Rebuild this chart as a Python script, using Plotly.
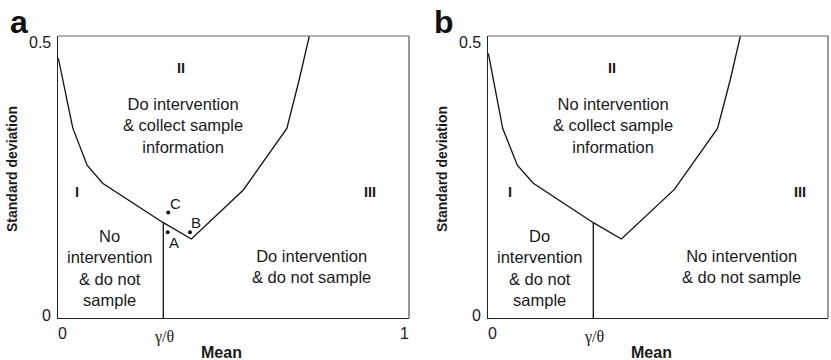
import plotly.graph_objects as go

# ---------------- data ----------------
gamma_theta = 0.3
mean_a = [0.001, 0.042, 0.083, 0.127, 0.300, 0.380, 0.528, 0.652, 0.687, 0.716]
sd_a = [0.4605, 0.337, 0.271, 0.239, 0.169, 0.140, 0.227, 0.336, 0.422, 0.500]
mean_b = [0.001, 0.042, 0.0835, 0.129, 0.300, 0.380, 0.531, 0.654, 0.690, 0.719]
sd_b = [0.469, 0.336, 0.271, 0.239, 0.169, 0.140, 0.228, 0.336, 0.422, 0.500]
boundary_top = 0.169  # where the vertical line meets the curve

point_labels = ["A", "B", "C"]
point_mean = [0.3125, 0.376, 0.314]
point_sd = [0.152, 0.152, 0.187]

x_ticks_a = [0, gamma_theta, 1]
x_ticktext_a = ["0", "γ/θ", "1"]
x_ticks_b = [0, gamma_theta]
x_ticktext_b = ["0", "γ/θ"]
y_ticks = [0, 0.5]
y_ticktext = ["0", "0.5"]

regions_a = ["I", "II", "III"]
regions_b = ["I", "II", "III"]
text_a = ["No<br>intervention<br>& do not<br>sample",
          "Do intervention<br>& collect sample<br>information",
          "Do intervention<br>& do not sample"]
text_b = ["Do<br>intervention<br>& do not<br>sample",
          "No intervention<br>& collect sample<br>information",
          "No intervention<br>& do not sample"]

# ---------------- figure ----------------
W, H = 831, 360
FONT = "Liberation Sans, Arial, Helvetica, sans-serif"
SERIF = "Liberation Serif, Times New Roman, serif"
TXT = "#1a1a1a"

fig = go.Figure()

def px_x(p):
    return p / W

def px_y(p):
    return 1 - p / H

for xa, ya, mx, sy in [("x", "y", mean_a, sd_a), ("x2", "y2", mean_b, sd_b)]:
    fig.add_trace(go.Scatter(x=mx, y=sy, mode="lines", xaxis=xa, yaxis=ya,
                             line=dict(color="#111", width=1.3), showlegend=False,
                             hoverinfo="skip"))
    fig.add_trace(go.Scatter(x=[gamma_theta, gamma_theta], y=[0, boundary_top],
                             mode="lines", xaxis=xa, yaxis=ya,
                             line=dict(color="#111", width=1.3), showlegend=False,
                             hoverinfo="skip"))

fig.add_trace(go.Scatter(x=point_mean, y=point_sd, mode="markers", xaxis="x", yaxis="y",
                         marker=dict(color="#111", size=4), showlegend=False,
                         hoverinfo="skip"))

ydom = [px_y(318), px_y(36)]
axis_common = dict(showgrid=False, zeroline=False, showticklabels=False, ticks="",
                   showline=True, linecolor="#222", linewidth=1.3, fixedrange=True)
fig.update_layout(
    width=W, height=H,
    margin=dict(l=0, r=0, t=0, b=0),
    paper_bgcolor="white", plot_bgcolor="white",
    font=dict(family=FONT, color=TXT),
    xaxis=dict(domain=[px_x(58), px_x(409)], range=[0, 1], anchor="y", **axis_common),
    yaxis=dict(domain=ydom, range=[0, 0.5], anchor="x", **axis_common),
    xaxis2=dict(domain=[px_x(488), px_x(828)], range=[0, 340 / 351], anchor="y2", **axis_common),
    yaxis2=dict(domain=ydom, range=[0, 0.5], anchor="x2", **axis_common),
)

# gray top / right frame lines
shapes = []
for xr, yr in [("x", "y"), ("x2", "y2")]:
    shapes.append(dict(type="line", xref=f"{xr} domain", yref=f"{yr} domain",
                       x0=0, x1=1, y0=1, y1=1, line=dict(color="#666", width=1.2)))
    shapes.append(dict(type="line", xref=f"{xr} domain", yref=f"{yr} domain",
                       x0=1, x1=1, y0=0, y1=1, line=dict(color="#555", width=1.2)))
fig.update_layout(shapes=shapes)

ann = []
C = dict(xanchor="center", yanchor="middle", showarrow=False)
# panel letters
ann.append(dict(text="<b>a</b>", xref="paper", yref="paper", x=px_x(19), y=px_y(22),
                font=dict(size=32, family=FONT, color="#111"), **C))
ann.append(dict(text="<b>b</b>", xref="paper", yref="paper", x=px_x(444), y=px_y(22),
                font=dict(size=32, family=FONT, color="#111"), **C))

# axis titles
for xc in [221, 651]:
    ann.append(dict(text="<b>Mean</b>", xref="paper", yref="paper", x=px_x(xc), y=px_y(352),
                    font=dict(size=16, family=FONT, color=TXT), **C))
for xc in [12, 442]:
    ann.append(dict(text="<b>Standard deviation</b>", xref="paper", yref="paper",
                    x=px_x(xc), y=px_y(169), textangle=-90,
                    font=dict(size=14, family=FONT, color=TXT), **C))

# y tick labels
yshift = {0: 3, 0.5: -7}
for xr, yr in [("x", "y"), ("x2", "y2")]:
    for v, t in zip(y_ticks, y_ticktext):
        ann.append(dict(text=t, xref=f"{xr} domain", yref=yr, x=0, y=v,
                        xanchor="right", yanchor="middle", xshift=-5, yshift=yshift[v],
                        showarrow=False, font=dict(size=16, family=FONT, color=TXT)))

# x tick labels
def xtick(xr, yr, vals, texts):
    for v, t in zip(vals, texts):
        serif = t == "γ/θ"
        shift = 4.5 if v == 0 else (-4.5 if v == 1 else 1)
        ann.append(dict(text=t, xref=xr, yref=f"{yr} domain", x=v, y=0,
                        xanchor="center", yanchor="top",
                        yshift=-5 if not serif else -8, xshift=shift,
                        showarrow=False,
                        font=dict(size=16, family=SERIF if serif else FONT, color=TXT)))

xtick("x", "y", x_ticks_a, x_ticktext_a)
xtick("x2", "y2", x_ticks_b, x_ticktext_b)

# region numerals and descriptions
num_pos_a = [(0.053, 0.224), (0.351, 0.4427), (0.889, 0.224)]
num_pos_b = [(0.063, 0.224), (0.353, 0.4427), (0.889, 0.224)]
txt_pos_a = [(0.148, 0.0895), (0.3575, 0.3413), (0.7236, 0.0913)]
txt_pos_b = [(0.1473, 0.0895), (0.356, 0.3413), (0.7236, 0.0913)]
for xr, yr, nums, npos, txts, tpos in [("x", "y", regions_a, num_pos_a, text_a, txt_pos_a),
                                       ("x2", "y2", regions_b, num_pos_b, text_b, txt_pos_b)]:
    for n, (px_, py_) in zip(nums, npos):
        ann.append(dict(text=f"<b>{n}</b>", xref=xr, yref=yr, x=px_, y=py_,
                        font=dict(size=14.5, family=FONT, color=TXT), **C))
    for t, (px_, py_) in zip(txts, tpos):
        ann.append(dict(text=t, xref=xr, yref=yr, x=px_, y=py_,
                        align="center", font=dict(size=16.5, family=FONT, color=TXT), **C))

# point labels
lab_off = {"A": (0.0171, -0.0181), "B": (0.017, 0.0179), "C": (0.0203, 0.0155)}
for lab, mx, sy in zip(point_labels, point_mean, point_sd):
    dx, dy = lab_off[lab]
    ann.append(dict(text=lab, xref="x", yref="y", x=mx + dx, y=sy + dy,
                    font=dict(size=15, family=FONT, color=TXT), **C))

fig.update_layout(annotations=ann)
fig.write_html("out.html")
